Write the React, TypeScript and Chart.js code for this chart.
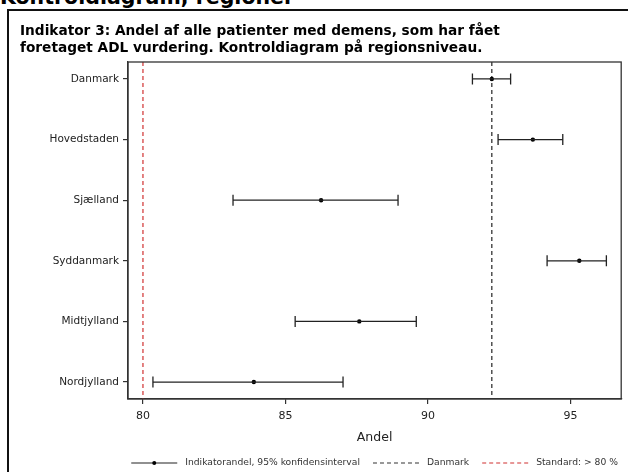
import { useEffect, useRef } from 'react';
import { Chart, registerables } from 'chart.js';
Chart.register(...registerables);

const regions = ['Danmark', 'Hovedstaden', 'Sjælland', 'Syddanmark', 'Midtjylland', 'Nordjylland'];
const andel = [92.24, 93.68, 86.25, 95.31, 87.59, 83.89];
const ciLow = [91.56, 92.46, 83.16, 94.18, 85.34, 80.35];
const ciHigh = [92.9, 94.73, 88.95, 96.26, 89.59, 87.02];
const danmarkRef = 92.24;
const standardRef = 80;
const xTicks = [80, 85, 90, 95];
const legendLabels = ['Indikatorandel, 95% konfidensinterval', 'Danmark', 'Standard: > 80 %'];
const heading = 'Kontroldiagram, regioner';
const titleLines = [
  'Indikator 3: Andel af alle patienter med demens, som har fået',
  'foretaget ADL vurdering. Kontroldiagram på regionsniveau.',
];

const Y_MIN = -0.28;
const Y_MAX = 5.28;
const INK = '#222';
const RED = '#d03030';

export default function App() {
  const ref = useRef<HTMLCanvasElement | null>(null);
  useEffect(() => {
    if (!ref.current) return;
    Chart.defaults.font.family = 'DejaVu Sans';
    Chart.defaults.color = '#222';

    const ciSets = regions.map((r, i) => ({
      label: r,
      data: [
        { x: ciLow[i], y: i },
        { x: ciHigh[i], y: i },
      ],
      showLine: true,
      borderColor: INK,
      borderWidth: 1.3,
      pointStyle: 'line' as const,
      pointRotation: 90,
      pointRadius: 5.5,
      pointBorderWidth: 1.3,
      pointBorderColor: INK,
      pointBackgroundColor: INK,
    }));

    const boxPlugin = {
      id: 'box',
      afterDraw(chart: any) {
        const { ctx, chartArea: a } = chart;
        ctx.save();
        ctx.strokeStyle = '#333';
        ctx.lineWidth = 1.3;
        ctx.strokeRect(a.left, a.top, a.right - a.left, a.bottom - a.top);
        ctx.restore();
      },
    };

    const legendPlugin = {
      id: 'customLegend',
      afterDraw(chart: any) {
        const { ctx, chartArea: a } = chart;
        ctx.save();
        ctx.font = '9.2px "DejaVu Sans"';
        const symW = 46;
        const gapT = 8;
        const gapI = 13;
        const widths = legendLabels.map((t) => ctx.measureText(t).width);
        const total = widths.reduce((s, w) => s + symW + gapT + w, 0) + gapI * (legendLabels.length - 1);
        let x = (a.left + a.right) / 2 - total / 2;
        const y = chart.height - 9;
        legendLabels.forEach((t, i) => {
          ctx.beginPath();
          ctx.lineWidth = 1.2;
          if (i === 0) {
            ctx.setLineDash([]);
            ctx.strokeStyle = INK;
          } else {
            ctx.setLineDash([4, 3]);
            ctx.strokeStyle = i === 1 ? '#333' : RED;
          }
          ctx.moveTo(x, y);
          ctx.lineTo(x + symW, y);
          ctx.stroke();
          ctx.setLineDash([]);
          if (i === 0) {
            ctx.beginPath();
            ctx.fillStyle = '#000';
            ctx.arc(x + symW / 2, y, 2, 0, Math.PI * 2);
            ctx.fill();
          }
          ctx.fillStyle = '#333';
          ctx.textBaseline = 'middle';
          ctx.textAlign = 'left';
          ctx.fillText(t, x + symW + gapT, y);
          x += symW + gapT + widths[i] + gapI;
        });
        ctx.restore();
      },
    };

    const chart = new Chart(ref.current, {
      type: 'scatter',
      data: {
        datasets: [
          ...ciSets,
          {
            label: 'Indikatorandel',
            data: andel.map((v, i) => ({ x: v, y: i })),
            pointRadius: 2.2,
            pointBackgroundColor: '#000',
            pointBorderWidth: 0,
          },
          {
            label: 'Danmark',
            data: [
              { x: danmarkRef, y: Y_MIN },
              { x: danmarkRef, y: Y_MAX },
            ],
            showLine: true,
            borderColor: '#333',
            borderWidth: 1.3,
            borderDash: [4, 3],
            pointRadius: 0,
          },
          {
            label: 'Standard',
            data: [
              { x: standardRef, y: Y_MIN },
              { x: standardRef, y: Y_MAX },
            ],
            showLine: true,
            borderColor: RED,
            borderWidth: 1.2,
            borderDash: [4, 3],
            pointRadius: 0,
          },
        ] as any,
      },
      options: {
        animation: false,
        responsive: false,
        maintainAspectRatio: false,
        layout: { padding: { left: 0, top: 62, right: 5, bottom: 23 } },
        plugins: {
          legend: { display: false },
          tooltip: { enabled: false },
          title: { display: false },
        },
        scales: {
          x: {
            type: 'linear',
            min: 79.475,
            max: 96.78,
            afterBuildTicks: (s: any) => {
              s.ticks = xTicks.map((v) => ({ value: v }));
            },
            afterFit: (s: any) => {
              s.height = 50;
            },
            grid: {
              drawOnChartArea: false,
              drawTicks: true,
              tickLength: 5,
              color: '#333',
              lineWidth: 1.2,
            },
            border: { display: true, color: '#333', width: 1.3 },
            ticks: { font: { size: 11 }, padding: 6, color: '#222', maxRotation: 0 },
            title: { display: true, text: 'Andel', font: { size: 12.5 }, color: '#222' },
          },
          y: {
            type: 'linear',
            min: Y_MIN,
            max: Y_MAX,
            reverse: true,
            afterBuildTicks: (s: any) => {
              s.ticks = regions.map((_, i) => ({ value: i }));
            },
            afterFit: (s: any) => {
              s.width = 128;
            },
            grid: {
              drawOnChartArea: false,
              drawTicks: true,
              tickLength: 5,
              color: '#333',
              lineWidth: 1.2,
            },
            border: { display: true, color: '#333', width: 1.3 },
            ticks: {
              font: { size: 10.5 },
              padding: 4,
              color: '#222',
              callback: (v: any) => regions[Math.round(Number(v))] ?? '',
            },
          },
        },
      },
      plugins: [boxPlugin, legendPlugin],
    });
    return () => chart.destroy();
  }, []);

  return (
    <div
      style={{
        position: 'fixed',
        left: 0,
        top: 0,
        width: 628,
        height: 472,
        overflow: 'hidden',
        background: '#fff',
        fontFamily: '"DejaVu Sans", sans-serif',
      }}
    >
      <div
        style={{
          position: 'absolute',
          left: 0,
          top: -13.3,
          fontSize: 20.5,
          fontWeight: 'bold',
          lineHeight: 1,
          whiteSpace: 'nowrap',
          color: '#000',
        }}
      >
        {heading}
      </div>
      <div
        style={{
          position: 'absolute',
          left: 7,
          top: 9,
          width: 700,
          height: 600,
          border: '2px solid #111',
          boxSizing: 'border-box',
        }}
      />
      <canvas ref={ref} width={628} height={472} style={{ position: 'absolute', left: 0, top: 0, width: 628, height: 472 }} />
      <div
        style={{
          position: 'absolute',
          left: 20,
          top: 21.7,
          fontSize: 13.7,
          fontWeight: 'bold',
          lineHeight: '17px',
          whiteSpace: 'nowrap',
          color: '#000',
        }}
      >
        {titleLines.map((t) => (
          <div key={t}>{t}</div>
        ))}
      </div>
    </div>
  );
}
